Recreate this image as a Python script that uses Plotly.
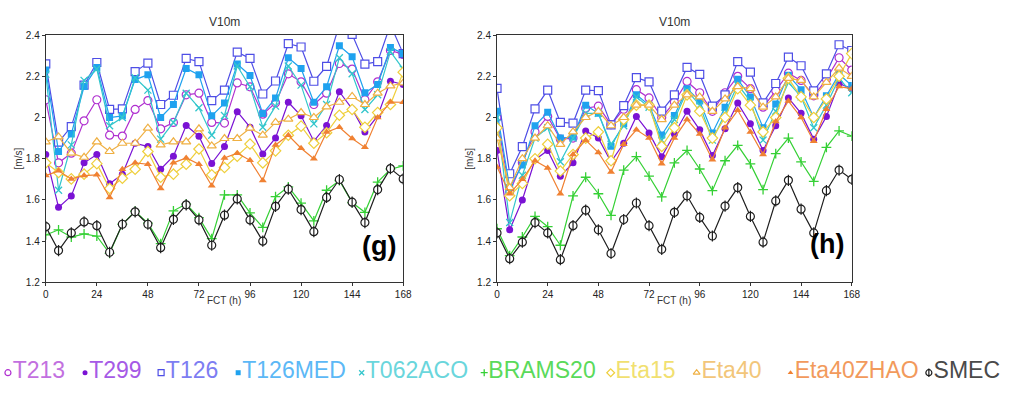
import plotly.graph_objects as go

# Forecast hours (every 6 h out to 7 days)
FCT = list(range(0, 169, 6))

# ---- Panel (g): mean 10 m wind speed [m/s] ----
T213_G = [2.086, 1.78, 1.827, 1.984, 2.086, 1.914, 1.91, 2.039, 2.082, 1.945, 1.976, 2.11, 2.118, 1.976, 1.973,
          2.168, 2.149, 2.016, 2.071, 2.212, 2.173, 2.063, 2.118, 2.262, 2.235, 2.086, 2.173, 2.325, 2.306]
T299_G = [1.82, 1.564, 1.619, 1.78, 1.82, 1.678, 1.725, 1.875, 1.859, 1.749, 1.812, 1.961, 1.909, 1.777, 1.859,
          2.028, 1.953, 1.823, 1.901, 2.074, 2.008, 1.885, 1.961, 2.125, 2.042, 1.929, 2.008, 2.176, 2.16]
T126_G = [2.26, 1.88, 1.956, 2.157, 2.267, 2.039, 2.042, 2.223, 2.264, 2.063, 2.108, 2.287, 2.271, 2.082, 2.133,
          2.317, 2.287, 2.114, 2.177, 2.358, 2.342, 2.176, 2.248, 2.45, 2.403, 2.259, 2.271, 2.45, 2.31]
T126MED_G = [2.23, 1.835, 1.92, 2.15, 2.243, 2.0, 2.008, 2.184, 2.207, 2.0, 2.063, 2.238, 2.207, 2.008, 2.07,
             2.259, 2.204, 2.019, 2.094, 2.29, 2.238, 2.074, 2.149, 2.348, 2.295, 2.12, 2.16, 2.34, 2.31]
T062ACO_G = [2.21, 1.647, 1.867, 2.18, 2.235, 1.96, 2.0, 2.193, 2.133, 1.895, 1.976, 2.118, 2.047, 1.914, 2.01,
             2.25, 2.149, 1.953, 2.055, 2.25, 2.157, 1.969, 2.063, 2.29, 2.212, 2.039, 2.11, 2.32, 2.235]
BRAMS20_G = [1.43, 1.455, 1.42, 1.435, 1.424, 1.341, 1.482, 1.545, 1.487, 1.388, 1.547, 1.58, 1.514, 1.412, 1.624,
             1.624, 1.537, 1.467, 1.616, 1.663, 1.584, 1.498, 1.647, 1.694, 1.587, 1.54, 1.686, 1.749, 1.765]
ETA15_G = [1.78, 1.733, 1.702, 1.725, 1.776, 1.655, 1.705, 1.749, 1.835, 1.71, 1.725, 1.773, 1.847, 1.722, 1.757,
           1.812, 1.871, 1.78, 1.838, 1.914, 1.958, 1.875, 1.926, 2.011, 2.039, 1.953, 2.024, 2.063, 2.22]
ETA40_G = [1.882, 1.906, 1.827, 1.807, 1.882, 1.835, 1.875, 1.875, 1.948, 1.867, 1.882, 1.882, 1.945, 1.862, 1.898,
           1.898, 1.948, 1.914, 1.976, 1.992, 2.024, 2.0, 2.052, 2.074, 2.102, 2.063, 2.118, 2.153, 2.168]
ETA40ZHAO_G = [1.718, 1.741, 1.702, 1.718, 1.722, 1.612, 1.749, 1.78, 1.773, 1.655, 1.78, 1.804, 1.773, 1.669, 1.804,
               1.827, 1.792, 1.694, 1.867, 1.914, 1.851, 1.8, 1.929, 1.953, 1.898, 1.855, 2.0, 2.075, 2.074]
SMEC_G = [1.47, 1.354, 1.44, 1.493, 1.475, 1.346, 1.482, 1.542, 1.482, 1.368, 1.506, 1.576, 1.503, 1.38, 1.526,
          1.605, 1.503, 1.4, 1.569, 1.652, 1.553, 1.446, 1.612, 1.699, 1.589, 1.49, 1.65, 1.752, 1.702]

# ---- Panel (h): mean 10 m wind speed [m/s] ----
T213_H = [2.0, 1.64, 1.78, 1.93, 2.005, 1.895, 1.9, 2.045, 2.055, 1.965, 2.04, 2.135, 2.095, 2.0, 2.075,
          2.175, 2.12, 2.03, 2.12, 2.2, 2.14, 2.05, 2.13, 2.215, 2.18, 2.105, 2.185, 2.29, 2.23]
T299_H = [1.84, 1.455, 1.6, 1.795, 1.84, 1.715, 1.78, 1.935, 1.9, 1.785, 1.875, 2.005, 1.925, 1.81, 1.92,
          2.03, 1.94, 1.815, 1.945, 2.07, 1.97, 1.84, 1.96, 2.095, 2.02, 1.895, 2.005, 2.165, 2.14]
T126_H = [2.141, 1.727, 1.859, 2.042, 2.133, 1.976, 1.973, 2.133, 2.13, 1.964, 2.058, 2.193, 2.173, 2.031, 2.11,
          2.243, 2.209, 2.055, 2.11, 2.271, 2.22, 2.071, 2.165, 2.293, 2.251, 2.129, 2.212, 2.353, 2.325]
T126MED_H = [2.03, 1.66, 1.77, 1.96, 2.025, 1.9, 1.905, 2.06, 2.02, 1.86, 1.97, 2.11, 2.06, 1.915, 2.01,
             2.14, 2.08, 1.925, 2.05, 2.185, 2.1, 1.95, 2.065, 2.205, 2.135, 2.0, 2.105, 2.21, 2.155]
T062ACO_H = [2.0, 1.49, 1.72, 1.9, 1.95, 1.785, 1.9, 2.02, 2.02, 1.87, 1.96, 2.1, 2.05, 1.89, 1.99,
             2.13, 2.06, 1.89, 2.02, 2.16, 2.08, 1.89, 2.03, 2.17, 2.1, 1.95, 2.06, 2.19, 2.12]
BRAMS20_H = [1.46, 1.33, 1.42, 1.52, 1.47, 1.38, 1.62, 1.71, 1.63, 1.525, 1.745, 1.81, 1.715, 1.615, 1.78,
             1.84, 1.75, 1.645, 1.79, 1.865, 1.775, 1.65, 1.825, 1.9, 1.785, 1.69, 1.855, 1.935, 1.91]
ETA15_H = [1.95, 1.62, 1.68, 1.8, 1.87, 1.74, 1.82, 1.9, 1.93, 1.79, 1.99, 2.06, 2.06, 1.86, 1.95,
           2.11, 2.03, 1.9, 2.0, 2.14, 2.06, 1.93, 2.0, 2.19, 2.1, 2.0, 2.09, 2.2, 2.31]
ETA40_H = [1.9, 1.66, 1.8, 1.9, 1.96, 1.87, 1.93, 2.0, 2.03, 1.96, 2.0, 2.06, 2.06, 1.99, 2.06,
           2.11, 2.1, 2.03, 2.09, 2.15, 2.14, 2.05, 2.1, 2.19, 2.18, 2.1, 2.17, 2.24, 2.2]
ETA40ZHAO_H = [1.76, 1.63, 1.7, 1.79, 1.755, 1.63, 1.82, 1.89, 1.83, 1.735, 1.87, 1.94, 1.9, 1.775, 1.9,
               1.99, 1.92, 1.795, 1.95, 2.035, 1.93, 1.82, 1.98, 2.08, 2.0, 1.885, 2.04, 2.15, 2.14]
SMEC_H = [1.44, 1.315, 1.395, 1.49, 1.44, 1.31, 1.475, 1.55, 1.455, 1.34, 1.505, 1.585, 1.475, 1.36, 1.54,
          1.62, 1.515, 1.425, 1.57, 1.66, 1.52, 1.395, 1.595, 1.695, 1.555, 1.44, 1.645, 1.745, 1.7]

MODELS = ["T213", "T299", "T126", "T126MED", "T062ACO", "BRAMS20", "Eta15", "Eta40", "Eta40ZHAO", "SMEC"]
PANEL_G = [T213_G, T299_G, T126_G, T126MED_G, T062ACO_G, BRAMS20_G, ETA15_G, ETA40_G, ETA40ZHAO_G, SMEC_G]
PANEL_H = [T213_H, T299_H, T126_H, T126MED_H, T062ACO_H, BRAMS20_H, ETA15_H, ETA40_H, ETA40ZHAO_H, SMEC_H]

Y_TICKS = [1.2, 1.4, 1.6, 1.8, 2.0, 2.2, 2.4]
Y_TICK_TEXT = ["1.2", "1.4", "1.6", "1.8", "2", "2.2", "2.4"]
X_TICKS = [0, 24, 48, 72, 96, 120, 144, 168]

# Per-model styling: line colour, marker symbol, hollow (white-filled) or not, legend text colour
STYLE = {
    "T213":      dict(color="#b030d0", symbol="circle",          hollow=True,  label="#c270e0"),
    "T299":      dict(color="#7a12d4", symbol="circle",          hollow=False, label="#a65ae6"),
    "T126":      dict(color="#4e4ee6", symbol="square",          hollow=True,  label="#7d7df2"),
    "T126MED":   dict(color="#1fa2ef", symbol="square",          hollow=False, label="#5cb8f6"),
    "T062ACO":   dict(color="#33c6cc", symbol="x-thin-open",     hollow=False, label="#6ad6dc"),
    "BRAMS20":   dict(color="#35d035", symbol="cross-thin-open", hollow=False, label="#5ada5a"),
    "Eta15":     dict(color="#efcf3c", symbol="diamond",         hollow=True,  label="#f1e070"),
    "Eta40":     dict(color="#efb043", symbol="triangle-up",     hollow=True,  label="#f2c67a"),
    "Eta40ZHAO": dict(color="#f08132", symbol="triangle-up",     hollow=False, label="#f29a5c"),
    "SMEC":      dict(color="#1e1e1e", symbol="circle",          hollow=True,  label="#4a4a4a"),
}

# Legend strip layout: marker centre of each entry along the bottom row (px)
LEGEND_X = [5, 83, 160, 238, 363, 487, 615, 702, 797, 937]


def marker_style(st, size):
    if st["hollow"]:
        return dict(symbol=st["symbol"], size=size, color="white",
                    line=dict(color=st["color"], width=1.2))
    if st["symbol"].endswith("-open"):
        return dict(symbol=st["symbol"], size=size - 1, color=st["color"],
                    line=dict(color=st["color"], width=1.3))
    return dict(symbol=st["symbol"], size=size - 1, color=st["color"],
                line=dict(color=st["color"], width=0))


fig = go.Figure()

panels = [("x", "y", PANEL_G), ("x2", "y2", PANEL_H)]
for xa, ya, values in panels:
    for name, vals in zip(MODELS, values):
        st = STYLE[name]
        fig.add_trace(go.Scatter(
            x=FCT, y=vals, xaxis=xa, yaxis=ya, name=name, showlegend=False,
            mode="lines+markers",
            line=dict(color=st["color"], width=1.2),
            marker=marker_style(st, 8),
            cliponaxis=True,
        ))
        if name == "SMEC":
            # vertical bar through the SMEC circles
            fig.add_trace(go.Scatter(
                x=FCT, y=vals, xaxis=xa, yaxis=ya, showlegend=False, mode="markers",
                marker=dict(symbol="line-ns-open", size=8, color=st["color"],
                            line=dict(color=st["color"], width=1.2)),
            ))

# Legend row drawn on its own hidden axis
for name, lx in zip(MODELS, LEGEND_X):
    st = STYLE[name]
    fig.add_trace(go.Scatter(
        x=[lx], y=[0.5], xaxis="x3", yaxis="y3", showlegend=False,
        mode="markers+text", text=[name], textposition="middle right",
        textfont=dict(family="Liberation Sans, Arial, sans-serif", size=23, color=st["label"]),
        marker=marker_style(st, 6),
        cliponaxis=False,
    ))
    if name == "SMEC":
        fig.add_trace(go.Scatter(
            x=[lx], y=[0.5], xaxis="x3", yaxis="y3", showlegend=False, mode="markers",
            marker=dict(symbol="line-ns-open", size=6, color=st["color"],
                        line=dict(color=st["color"], width=1.2)),
            cliponaxis=False,
        ))

tick_font = dict(family="Liberation Sans, Arial, sans-serif", size=10, color="#222")
common_x = dict(range=[0, 168], tickvals=X_TICKS, ticks="outside", ticklen=3, tickcolor="#333",
                showline=True, linecolor="#333", linewidth=1, mirror=True, showgrid=False,
                zeroline=False, tickfont=tick_font)
common_y = dict(range=[1.2, 2.4], tickvals=Y_TICKS, ticktext=Y_TICK_TEXT, ticks="outside", ticklen=3,
                tickcolor="#333", showline=True, linecolor="#333", linewidth=1, mirror=True,
                showgrid=False, zeroline=False, tickfont=tick_font)

Y_DOM = [0.2766, 0.9239]
fig.update_layout(
    width=1009, height=394, margin=dict(l=0, r=0, t=0, b=0),
    paper_bgcolor="white", plot_bgcolor="white", showlegend=False,
    xaxis=dict(domain=[0.0429, 0.4014], anchor="y", **common_x),
    yaxis=dict(domain=Y_DOM, anchor="x", **common_y),
    xaxis2=dict(domain=[0.4955, 0.8513], anchor="y2", **common_x),
    yaxis2=dict(domain=Y_DOM, anchor="x2", **common_y),
    xaxis3=dict(domain=[0, 1], anchor="y3", range=[0, 1009], visible=False),
    yaxis3=dict(domain=[0.0, 0.08], anchor="x3", range=[0, 1], visible=False),
)

label_font = dict(family="Liberation Sans, Arial, sans-serif", size=10, color="#333")
annotations = []
for xr, yr in (("x domain", "y domain"), ("x2 domain", "y2 domain")):
    annotations.append(dict(text="V10m", xref=xr, yref=yr, x=0.5, y=1.0, yshift=13,
                            xanchor="center", yanchor="middle", showarrow=False,
                            font=dict(family="Liberation Sans, Arial, sans-serif", size=12, color="#333")))
    annotations.append(dict(text="FCT (h)", xref=xr, yref=yr, x=0.5, y=0, yshift=-18,
                            xanchor="center", yanchor="middle", showarrow=False, font=label_font))
    annotations.append(dict(text="[m/s]", xref=xr, yref=yr, x=0, y=0.5, xshift=-27,
                            xanchor="center", yanchor="middle", textangle=-90,
                            showarrow=False, font=label_font))
annotations.append(dict(text="<b>(g)</b>", xref="x domain", yref="y domain", x=0.986, y=0.145,
                        xanchor="right", yanchor="middle", showarrow=False,
                        font=dict(family="Liberation Sans, Arial, sans-serif", size=27, color="black")))
annotations.append(dict(text="<b>(h)</b>", xref="x2 domain", yref="y2 domain", x=0.983, y=0.155,
                        xanchor="right", yanchor="middle", showarrow=False,
                        font=dict(family="Liberation Sans, Arial, sans-serif", size=27, color="black")))
fig.update_layout(annotations=annotations)

fig.write_html("out.html")
